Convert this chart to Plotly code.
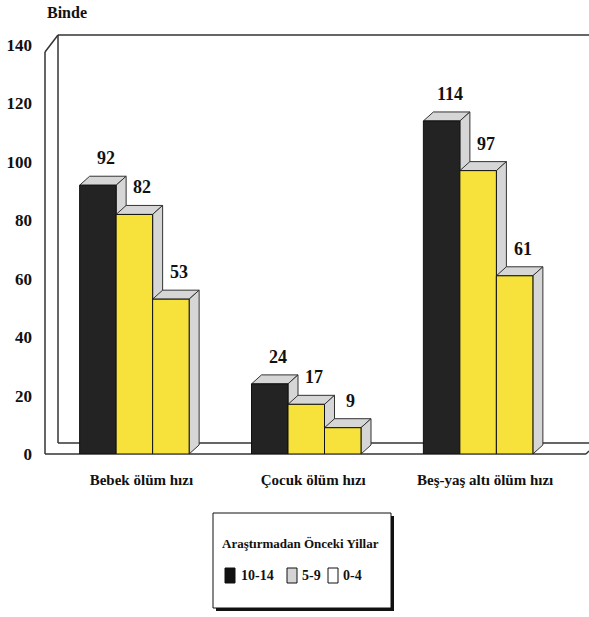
import plotly.graph_objects as go

# ---------------- data ----------------
categories = ["Bebek ölüm hızı", "Çocuk ölüm hızı", "Beş-yaş altı ölüm hızı"]
series_names = ["10-14", "5-9", "0-4"]
values_10_14 = [92, 24, 114]
values_5_9 = [82, 17, 97]
values_0_4 = [53, 9, 61]
y_ticks = [0, 20, 40, 60, 80, 100, 120, 140]
legend_title = "Araştırmadan Önceki Yillar"
y_unit = "Binde"

series_values = [values_10_14, values_5_9, values_0_4]
front_colors = ["#232323", "#f6e23a", "#f6e23a"]
legend_swatch_colors = ["#111111", "#d4d4d4", "#ffffff"]
SERIF = "Liberation Serif, Times New Roman, Tinos, DejaVu Serif, serif"

# ---------------- geometry ----------------
W, H = 589, 617
L, R, T, B = 45, 0, 45, 163
pw, ph = W - L - R, H - T - B
x_range = [-0.52, 2.645]
y_range = [0, 140]
ppx = pw / (x_range[1] - x_range[0])        # pixels per x unit
ppy = ph / (y_range[1] - y_range[0])        # pixels per y unit
bar_w = 36.5 / ppx
dx = 10 / ppx                                # 3-D depth in data units
dy = 9 / ppy


def PX(x):
    return (x - L) / pw


def PY(y):
    return (H - B - y) / ph


fig = go.Figure()
shapes = []
annotations = []

# 3-D frame (decoration)
frame_col = "#333333"
frame_lines = [
    ((45, 52), (45, 454)),
    ((45, 52), (58, 35)),
    ((58, 35), (58, 443)),
    ((58, 35), (589, 35)),
    ((58, 443), (589, 443)),
    ((45, 454), (586, 454)),
    ((586, 454), (589, 451)),
]
for (x0, y0), (x1, y1) in frame_lines:
    shapes.append(dict(type="line", xref="paper", yref="paper",
                       x0=PX(x0), y0=PY(y0), x1=PX(x1), y1=PY(y1),
                       line=dict(color=frame_col, width=1.5), layer="below"))

# bars (front faces) + top/side faces from the data
for j, (name, vals) in enumerate(zip(series_names, series_values)):
    off = (j - 1.5) * bar_w
    fig.add_trace(go.Bar(
        x=list(range(len(categories))), y=vals, name=name,
        width=bar_w, offset=off,
        marker=dict(color=front_colors[j], line=dict(color="#111111", width=1)),
        showlegend=False, hoverinfo="y",
    ))
    for i, v in enumerate(vals):
        xa = i + off
        xb = xa + bar_w
        top = (f"M {xa},{v} L {xa + dx},{v + dy} L {xb + dx},{v + dy} "
               f"L {xb},{v} Z")
        side = (f"M {xb},0 L {xb + dx},{dy} L {xb + dx},{v + dy} "
                f"L {xb},{v} Z")
        for p in (top, side):
            shapes.append(dict(type="path", path=p, xref="x", yref="y",
                               fillcolor="#d6d6d6",
                               line=dict(color="#333333", width=1),
                               layer="below"))
        annotations.append(dict(
            x=xa + bar_w / 2 + dx * 0.8, y=v + dy, xref="x", yref="y",
            text="<b>%d</b>" % v, showarrow=False,
            xanchor="center", yanchor="bottom", yshift=6,
            font=dict(family=SERIF, size=18, color="#111111"),
        ))

# unit label
annotations.append(dict(
    x=PX(67), y=PY(12), xref="paper", yref="paper", text="<b>%s</b>" % y_unit,
    xanchor="center", yanchor="middle",
    showarrow=False, font=dict(family=SERIF, size=16, color="#111111"),
))

# legend box (drawn)
shapes.append(dict(type="rect", xref="paper", yref="paper",
                   x0=PX(216), y0=PY(516), x1=PX(394), y1=PY(611),
                   fillcolor="#111111", line=dict(width=0), layer="above"))
shapes.append(dict(type="rect", xref="paper", yref="paper",
                   x0=PX(213), y0=PY(513), x1=PX(391), y1=PY(608),
                   fillcolor="#ffffff", line=dict(color="#111111", width=1),
                   layer="above"))
annotations.append(dict(
    x=PX(300), y=PY(543), xref="paper", yref="paper",
    text="<b>%s</b>" % legend_title,
    xanchor="center", yanchor="middle",
    showarrow=False, font=dict(family=SERIF, size=13, color="#111111"),
))
swatch_x = [225, 287, 328]
text_x = [239, 300, 341]
for k, name in enumerate(series_names):
    shapes.append(dict(type="rect", xref="paper", yref="paper",
                       x0=PX(swatch_x[k]), y0=PY(583),
                       x1=PX(swatch_x[k] + 10), y1=PY(568),
                       fillcolor=legend_swatch_colors[k],
                       line=dict(color="#111111", width=1), layer="above"))
    annotations.append(dict(
        x=PX(text_x[k]), y=PY(575.5), xref="paper", yref="paper",
        text="<b>%s</b>" % name,
        xanchor="left", yanchor="middle", showarrow=False,
        font=dict(family=SERIF, size=14, color="#111111"),
    ))

fig.update_layout(
    width=W, height=H,
    margin=dict(l=L, r=R, t=T, b=B, pad=0, autoexpand=False),
    paper_bgcolor="#ffffff", plot_bgcolor="rgba(0,0,0,0)",
    barmode="overlay",
    showlegend=False,
    shapes=shapes, annotations=annotations,
    xaxis=dict(range=x_range, tickvals=list(range(len(categories))),
               ticktext=["<b>%s</b>" % c for c in categories],
               showgrid=False, zeroline=False,
               showline=False, ticks="", ticklabelstandoff=15,
               ticklabelshift=7, automargin=False,
               tickfont=dict(family=SERIF, size=15, color="#111111")),
    yaxis=dict(range=y_range, tickvals=y_ticks,
               ticktext=["<b>%d</b>" % t for t in y_ticks],
               showgrid=False,
               zeroline=False, showline=False, ticks="",
               ticklabelstandoff=12, automargin=False,
               tickfont=dict(family=SERIF, size=17, color="#111111")),
)

fig.write_html(
    "out.html",
    config={"displayModeBar": False},
    post_script="document.body.style.margin='0';"
                "document.body.style.overflow='hidden';",
)
